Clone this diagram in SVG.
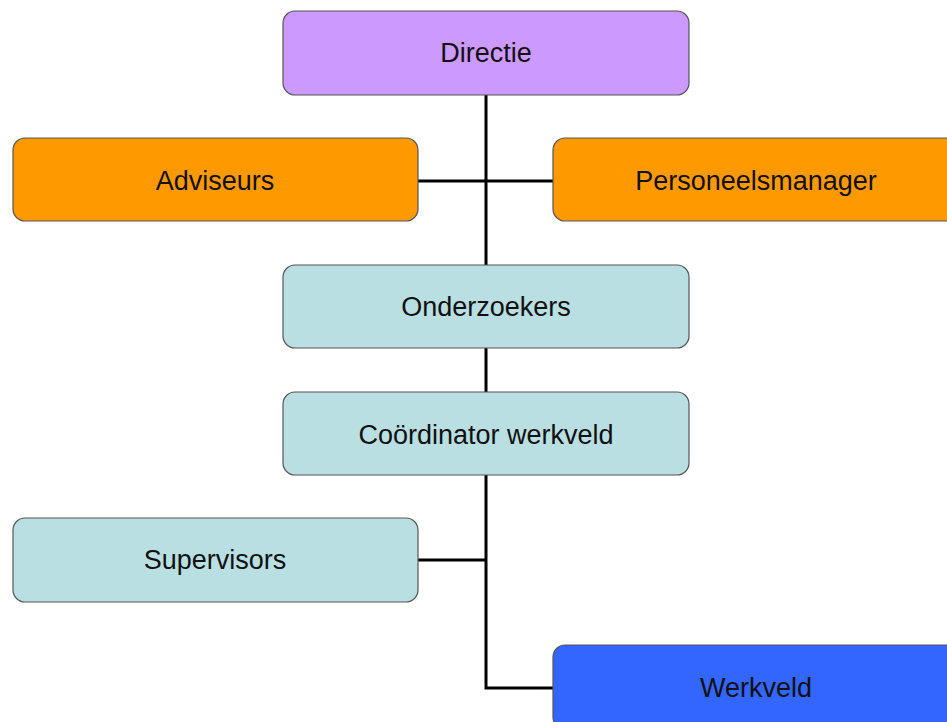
<svg xmlns="http://www.w3.org/2000/svg" width="947" height="722" viewBox="0 0 947 722">
<style>
.box{stroke:#555;stroke-width:1.2}
.t{font-family:"Liberation Sans",Arial,sans-serif;font-size:27px;fill:#111;text-anchor:middle;dominant-baseline:central}
.c{stroke:#000;stroke-width:3;fill:none}
</style>
<rect width="947" height="722" fill="#fff"/>
<g id="connectors">
<path class="c" d="M486 95V265M418 181H553M486 348V392M486 475V688H553M418 560H486"/>
</g>
<g id="directie"><rect class="box" x="283" y="11" width="406" height="84" rx="12" fill="#CC99FF"/><text class="t" x="486" y="53">Directie</text></g>
<g id="adviseurs"><rect class="box" x="13" y="138" width="405" height="83" rx="12" fill="#FF9900"/><text class="t" x="215" y="181">Adviseurs</text></g>
<g id="personeelsmanager"><rect class="box" x="553" y="138" width="406" height="83" rx="12" fill="#FF9900"/><text class="t" x="756" y="181">Personeelsmanager</text></g>
<g id="onderzoekers"><rect class="box" x="283" y="265" width="406" height="83" rx="12" fill="#B9DFE2"/><text class="t" x="486" y="307">Onderzoekers</text></g>
<g id="coordinator"><rect class="box" x="283" y="392" width="406" height="83" rx="12" fill="#B9DFE2"/><text class="t" x="486" y="435">Coördinator werkveld</text></g>
<g id="supervisors"><rect class="box" x="13" y="518" width="405" height="84" rx="12" fill="#B9DFE2"/><text class="t" x="215" y="560">Supervisors</text></g>
<g id="werkveld"><rect class="box" x="553" y="645" width="406" height="84" rx="12" fill="#3366FF"/><text class="t" x="756" y="688">Werkveld</text></g>
</svg>
